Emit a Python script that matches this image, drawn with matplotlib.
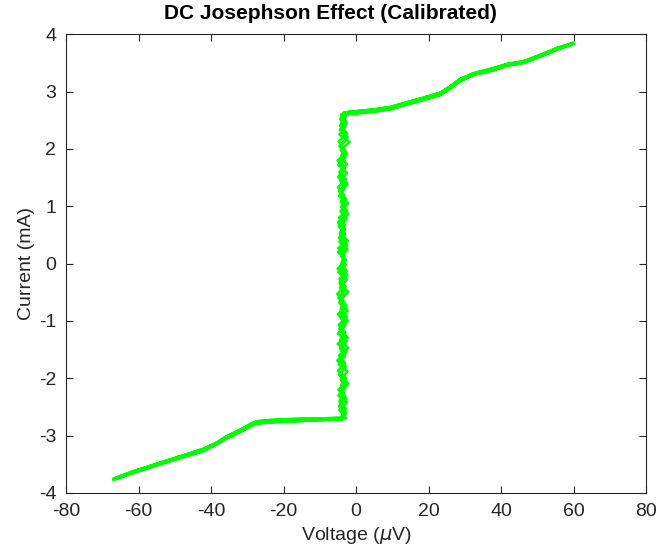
import numpy as np
import matplotlib
matplotlib.use("Agg")
import matplotlib.pyplot as plt

plt.rcParams['font.family'] = ['Liberation Sans', 'DejaVu Sans']
plt.rcParams['axes.unicode_minus'] = False

# normal-state branch, positive side (uV, mA)
v_pos = [-3.4, -1.7, 2.0, 5.0, 9.4, 14.9, 19.5, 23.2, 25.9, 28.7, 32.4, 37.9, 41.6, 46.2, 50.8, 55.4, 59.9]
i_pos_out = [2.63, 2.65, 2.67, 2.69, 2.73, 2.83, 2.91, 2.98, 3.09, 3.22, 3.32, 3.41, 3.48, 3.53, 3.64, 3.76, 3.85]
i_pos_back = [2.60, 2.61, 2.63, 2.65, 2.69, 2.79, 2.87, 2.94, 3.05, 3.18, 3.29, 3.37, 3.45, 3.50, 3.61, 3.73, 3.83]

# normal-state branch, negative side
v_neg = [-3.6, -4.4, -10.0, -17.3, -24.0, -27.4, -29.2, -32.0, -35.7, -38.4, -42.1, -49.5, -55.9, -61.4, -66.9]
i_neg_out = [-2.71, -2.72, -2.73, -2.75, -2.77, -2.79, -2.84, -2.94, -3.05, -3.15, -3.27, -3.41, -3.54, -3.65, -3.77]
i_neg_back = [-2.68, -2.69, -2.70, -2.71, -2.73, -2.75, -2.80, -2.90, -3.01, -3.12, -3.23, -3.38, -3.51, -3.62, -3.75]

# zero-voltage (supercurrent) branch, sweeping up and down
i_sc_up = [-2.70, -2.55, -2.42, -2.30, -2.15, -2.02, -1.88, -1.75, -1.62, -1.48, -1.35, -1.22, -1.08, -0.95,
           -0.82, -0.68, -0.55, -0.42, -0.28, -0.15, -0.02, 0.12, 0.25, 0.38, 0.52, 0.65, 0.78, 0.92, 1.05,
           1.18, 1.32, 1.45, 1.58, 1.72, 1.85, 1.98, 2.12, 2.25, 2.38, 2.52, 2.62]
v_sc_up = [-2.8, -4.6, -2.5, -4.9, -3.0, -4.2, -2.4, -4.8, -3.1, -4.4, -2.6, -5.0, -2.9, -4.1, -2.3, -4.7,
           -3.3, -4.5, -2.5, -4.9, -2.8, -4.0, -2.4, -4.6, -3.0, -4.8, -2.6, -4.3, -2.2, -4.7, -3.1, -4.4,
           -2.5, -4.9, -2.9, -4.2, -1.8, -4.6, -3.0, -4.4, -3.4]
i_sc_dn = [2.60, 2.47, 2.33, 2.20, 2.07, 1.93, 1.80, 1.67, 1.53, 1.40, 1.27, 1.13, 1.00, 0.87, 0.73, 0.60,
           0.47, 0.33, 0.20, 0.07, -0.07, -0.20, -0.33, -0.47, -0.60, -0.73, -0.87, -1.00, -1.13, -1.27,
           -1.40, -1.53, -1.67, -1.80, -1.93, -2.07, -2.20, -2.33, -2.47, -2.60, -2.70]
v_sc_dn = [-4.2, -2.7, -4.5, -2.3, -4.0, -2.6, -5.1, -3.2, -4.4, -2.5, -4.7, -2.8, -4.1, -2.2, -4.8, -3.0,
           -4.3, -2.6, -5.0, -2.9, -4.4, -2.4, -4.6, -3.2, -4.9, -2.7, -4.2, -2.3, -4.5, -3.0, -5.1, -2.6,
           -4.3, -2.8, -4.7, -2.5, -4.9, -3.1, -4.4, -2.7, -3.6]
# second sweep through the supercurrent branch
i_sc_up2 = [-2.68, -2.61, -2.49, -2.36, -2.24, -2.09, -1.95, -1.81, -1.69, -1.55, -1.41, -1.29, -1.15, -1.01,
            -0.88, -0.75, -0.61, -0.49, -0.35, -0.21, -0.09, 0.05, 0.18, 0.31, 0.45, 0.58, 0.71, 0.85, 0.98,
            1.11, 1.25, 1.38, 1.51, 1.65, 1.78, 1.91, 2.05, 2.18, 2.31, 2.45, 2.58]
v_sc_up2 = [-4.1, -3.0, -4.7, -2.7, -3.8, -2.2, -4.5, -3.3, -5.2, -2.8, -4.0, -2.3, -4.6, -3.4, -5.0, -2.7,
            -3.9, -2.2, -4.4, -3.2, -5.1, -2.9, -4.2, -2.5, -4.7, -3.5, -4.9, -2.3, -4.0, -2.8, -4.5, -2.4,
            -5.0, -3.2, -4.3, -2.7, -4.6, -2.5, -3.9, -2.6, -4.1]
i_sc_dn2 = [2.56, 2.40, 2.27, 2.13, 2.00, 1.87, 1.73, 1.60, 1.47, 1.33, 1.20, 1.07, 0.93, 0.80, 0.67, 0.53,
            0.40, 0.27, 0.13, 0.00, -0.13, -0.27, -0.40, -0.53, -0.67, -0.80, -0.93, -1.07, -1.20, -1.33,
            -1.47, -1.60, -1.73, -1.87, -2.00, -2.13, -2.27, -2.40, -2.53, -2.65]
v_sc_dn2 = [-2.9, -4.4, -2.4, -4.8, -3.5, -4.1, -2.5, -4.6, -2.8, -5.0, -3.3, -4.2, -2.6, -4.7, -3.1, -4.5,
            -2.3, -4.9, -3.2, -4.1, -2.6, -4.6, -2.9, -5.2, -3.4, -4.3, -2.5, -4.8, -3.0, -4.4, -2.2, -4.7,
            -3.1, -5.0, -2.7, -4.2, -3.3, -4.6, -2.8, -3.9]

# full sweeps: top -> down the supercurrent branch -> out negative -> back -> up -> out positive
V = np.concatenate([v_pos[::-1], v_sc_dn, v_neg, v_neg[::-1], v_sc_up, v_pos,
                    v_pos[::-1], v_sc_dn2, v_neg, v_neg[::-1], v_sc_up2, v_pos])
I = np.concatenate([i_pos_back[::-1], i_sc_dn, i_neg_out, i_neg_back[::-1], i_sc_up, i_pos_out,
                    i_pos_out[::-1], i_sc_dn2, i_neg_back, i_neg_out[::-1], i_sc_up2, i_pos_back])

fig = plt.figure(figsize=(6.6, 5.52), dpi=100)
ax = fig.add_axes([0.1, 0.107, 0.879, 0.831])
ax.plot(V, I, color=(0.0, 1.0, 0.0), lw=1.8)

ax.set_xlim(-80, 80)
ax.set_ylim(-4, 4)
ax.set_xticks(np.arange(-80, 81, 20))
ax.set_yticks(np.arange(-4, 5, 1))
ax.tick_params(direction='in', top=True, right=True, length=5, labelsize=14,
               colors=(0.15, 0.15, 0.15))
ax.tick_params(axis='x', pad=7)
ax.tick_params(axis='y', pad=7)
for s in ax.spines.values():
    s.set_color((0.15, 0.15, 0.15))
ax.set_xlabel(r'Voltage ($\mu$V)', fontsize=14, color=(0.15, 0.15, 0.15), labelpad=4)
ax.set_ylabel('Current (mA)', fontsize=14, color=(0.15, 0.15, 0.15), labelpad=3)
fig.text(0.5, 0.975, 'DC Josephson Effect (Calibrated)', fontsize=15, fontweight='bold',
         ha='center', va='center')

fig.savefig('out.png', dpi=100)
